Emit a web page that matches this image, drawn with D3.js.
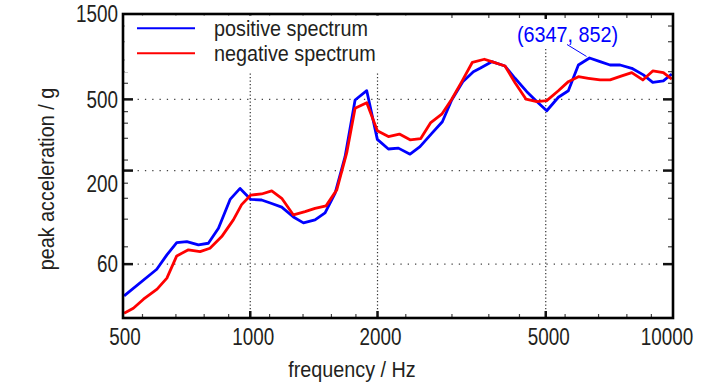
<!DOCTYPE html>
<html><head><meta charset="utf-8">
<script src="https://cdn.jsdelivr.net/npm/d3@7/dist/d3.min.js"></script>
<style>
html,body{margin:0;padding:0;background:#fff;}
text{font-family:"Liberation Sans",Arial,sans-serif;fill:#231f20;}
</style></head>
<body>
<svg id="chart" width="728" height="390"></svg>
<script>
// ---- data ----
const posFreq = [503,601,635,670,708,754,796,841,896,946,1003,1064,1124,1187,1265,1336,1423,1503,1587,1676,1770,1886,1998,2122,2241,2388,2521,2688,2847,2996,3182,3371,3496,3726,4005,4230,4510,4762,5028,5356,5655,5973,6347,6722,7098,7497,7989,8510,8956,9489,9933];
const posVal  = [39.9,56.2,67.6,79.1,80.2,76.8,78.5,95.3,138,159,138,137,131,125,110,102,106,116,149,239,496,559,299,264,267,247,272,323,375,496,628,714,746,812,768,656,552,486,432,514,559,778,852,812,778,778,746,685,623,634,693];
const negFreq = [503,529,559,602,635,670,714,761,803,856,912,954,1003,1064,1124,1187,1265,1348,1423,1511,1602,1691,1770,1886,1998,2122,2253,2388,2531,2673,2838,2996,3165,3353,3579,3726,4005,4230,4492,4762,5028,5356,5655,5973,6308,6722,7098,7566,7989,8483,8956,9489,9933];
const negVal  = [31.9,34.0,38.2,43.5,50.1,66.7,72.1,70.5,73.6,85.5,106,129,146,148,154,140,113,118,123,127,156,251,446,479,334,310,320,297,302,371,413,501,628,806,838,812,768,620,501,486,492,559,628,670,656,642,642,676,705,642,721,705,648];
const seriesNames = ["positive spectrum","negative spectrum"];
const xMajor = [500,1000,2000,5000,10000];
const xMinor = [556,667,778,889,1111,1333,1556,1778,2333,3000,3667,4333,5556,6667,7778,8889];
const xGrid = [1000,2000,5000];
const yMajor = [60,200,500,1500];
const yMinor = [75,107,140,170,229,303,368,427,615,714,830,1050,1285];
const yGrid = [60,200,500];
const peak = {f:6347, v:852, label:"(6347, 852)"};

// ---- layout ----
const svg = d3.select("#chart");
const L=123, R=673, T=14, B=318;
const x = d3.scaleLog().domain([500,10000]).range([L,R]);
const y = d3.scaleLog().domain([30,1500]).range([B,T]);

function txt(parent, px, py, s, size, sx, anchor, rot){
  const t = parent.append("text")
    .attr("transform", `translate(${px},${py})` + (rot?` rotate(${rot})`:"") + ` scale(${sx},1)`)
    .attr("font-size", size).attr("text-anchor", anchor||"start").text(s);
  return t;
}

// gridlines
const g = svg.append("g");
g.selectAll(".gx").data(xGrid).join("line")
  .attr("x1",d=>x(d)).attr("x2",d=>x(d)).attr("y1",T).attr("y2",B)
  .attr("stroke","#333").attr("stroke-width",1.2).attr("stroke-dasharray","1.3,2.2");
g.selectAll(".gy").data(yGrid).join("line")
  .attr("x1",L).attr("x2",R).attr("y1",d=>y(d)).attr("y2",d=>y(d))
  .attr("stroke","#444").attr("stroke-width",1.2).attr("stroke-dasharray","1.3,6");

// ticks (inward, all four sides)
const tk = svg.append("g").attr("stroke","#222");
function xt(vals,len,w,col){
  tk.selectAll(null).data(vals).join("line").attr("x1",d=>x(d)).attr("x2",d=>x(d))
    .attr("y1",B).attr("y2",B-len).attr("stroke-width",w).attr("stroke",col);
  tk.selectAll(null).data(vals).join("line").attr("x1",d=>x(d)).attr("x2",d=>x(d))
    .attr("y1",T).attr("y2",T+len).attr("stroke-width",w).attr("stroke",col);
}
function yt(vals,len,w,col){
  tk.selectAll(null).data(vals).join("line").attr("y1",d=>y(d)).attr("y2",d=>y(d))
    .attr("x1",L).attr("x2",L+len).attr("stroke-width",w).attr("stroke",col);
  tk.selectAll(null).data(vals).join("line").attr("y1",d=>y(d)).attr("y2",d=>y(d))
    .attr("x1",R).attr("x2",R-len).attr("stroke-width",w).attr("stroke",col);
}
xt(xMinor,4,1.2,"#444"); xt(xMajor.slice(1,-1),7,2.5,"#111");
yt(yMinor,5,1.2,"#444"); yt(yMajor.slice(0,-1),10,2.5,"#111");

// legend box background (hides grid/ticks under it)
svg.append("rect").attr("x",L+1.5).attr("y",T+1.5).attr("width",448-L).attr("height",72-T-1.5).attr("fill","#fff");
// annotation background
svg.append("rect").attr("x",512).attr("y",19).attr("width",110).attr("height",28).attr("fill","#fff");

// series lines
const line = d3.line().x(d=>x(d[0])).y(d=>y(d[1]));
const posPts = d3.zip(posFreq,posVal), negPts = d3.zip(negFreq,negVal);
svg.append("path").datum(posPts).attr("d",line).attr("fill","none").attr("stroke","#0000ff").attr("stroke-width",2.8).attr("stroke-linejoin","round");
svg.append("path").datum(negPts).attr("d",line).attr("fill","none").attr("stroke","#ff0000").attr("stroke-width",2.8).attr("stroke-linejoin","round");

// frame
svg.append("rect").attr("x",L).attr("y",T).attr("width",R-L).attr("height",B-T)
  .attr("fill","none").attr("stroke","#000").attr("stroke-width",2.6);

// tick labels
const xl = svg.append("g");
xMajor.forEach(d=>{
  txt(xl, x(d)+(d===10000?-6:(d===500?2:3)), 345, String(d), 23, 0.82, "middle");
});
const yOff = {60:0,200:13,500:0,1500:0};
const yl = svg.append("g");
yMajor.forEach(d=>{
  txt(yl, 118, y(d)+yOff[d]+8.3, String(d), 23, 0.82, "end");
});

// axis titles
txt(svg, 352, 377, "frequency / Hz", 22, 0.9, "middle");
txt(svg, 54, 179, "peak acceleration / g", 22, 0.9, "middle", -90);

// legend
const lg = svg.append("g");
const lgCols = ["#0000ff","#ff0000"];
seriesNames.forEach((n,i)=>{
  const yy = 28.3 + i*25;
  lg.append("line").attr("x1",137).attr("x2",195).attr("y1",yy).attr("y2",yy).attr("stroke",lgCols[i]).attr("stroke-width",2);
  txt(lg, 214, yy+8, n, 22, 0.9, "start");
});

// annotation
svg.append("line").attr("x1",567).attr("y1",44.5).attr("x2",x(peak.f)-3).attr("y2",y(peak.v)-1.5).attr("stroke","#0000ff").attr("stroke-width",1);
txt(svg, 567.5, 42, peak.label, 22, 0.9, "middle").style("fill","#0000ff");
</script>
</body></html>
